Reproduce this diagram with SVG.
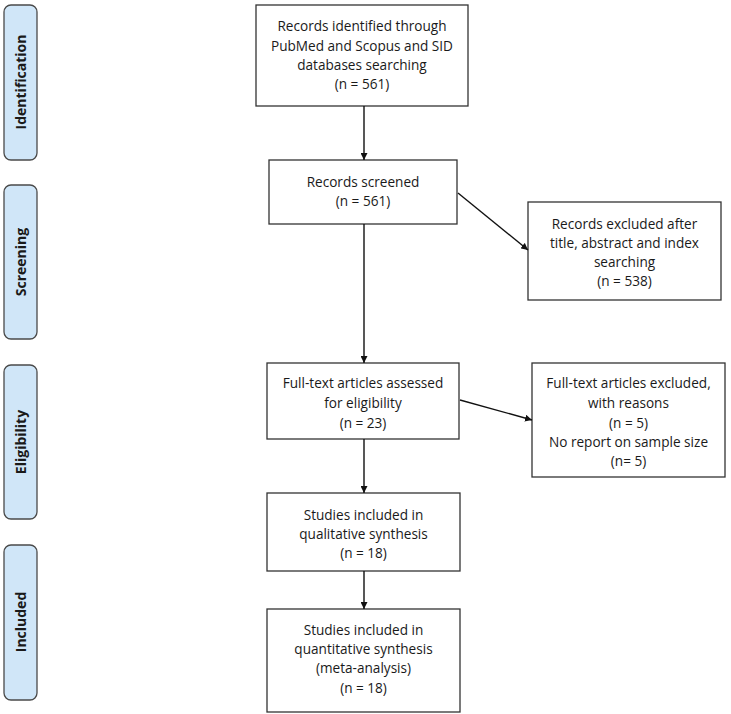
<svg xmlns="http://www.w3.org/2000/svg" width="731" height="714" viewBox="0 0 731 714">
<style>
.pill{fill:#d0e6f8;stroke:#4a4a4a;stroke-width:1.3}
.box{fill:#fff;stroke:#333;stroke-width:1.3}
.lbl{font-family:"Open Sans","Liberation Sans",sans-serif;font-size:14px;font-weight:bold;fill:#1a1a1a;text-anchor:middle}
.t{font-family:"Open Sans","Liberation Sans",sans-serif;font-size:13.6px;fill:#1a1a1a;text-anchor:middle}
.c{stroke:#111;stroke-width:1.4;fill:none;marker-end:url(#ah)}
</style>
<defs>
<marker id="ah" viewBox="0 0 10 10" refX="10" refY="5" markerWidth="7" markerHeight="7" markerUnits="userSpaceOnUse" orient="auto">
<path d="M0,0 L10,5 L0,10 z" fill="#111"/>
</marker>
</defs>
<g id="stage-identification"><rect class="pill" x="4" y="5" width="33" height="155" rx="7"/><text class="lbl" transform="translate(25.5,82) rotate(-90)">Identification</text></g>
<g id="stage-screening"><rect class="pill" x="4" y="185" width="33" height="154" rx="7"/><text class="lbl" transform="translate(25.5,262) rotate(-90)">Screening</text></g>
<g id="stage-eligibility"><rect class="pill" x="4" y="365" width="33" height="154" rx="7"/><text class="lbl" transform="translate(25.5,442) rotate(-90)">Eligibility</text></g>
<g id="stage-included"><rect class="pill" x="4" y="545" width="33" height="155" rx="7"/><text class="lbl" transform="translate(25.5,622) rotate(-90)">Included</text></g>
<g id="n1"><rect class="box" x="256" y="5" width="212" height="101"/>
<text class="t" x="362" y="31">Records identified through</text>
<text class="t" x="362" y="50.5">PubMed and Scopus and SID</text>
<text class="t" x="362" y="69.5">databases searching</text>
<text class="t" x="362" y="89">(n = 561)</text></g>
<g id="n2"><rect class="box" x="269" y="160" width="188" height="64"/>
<text class="t" x="363" y="186.5">Records screened</text>
<text class="t" x="363" y="205.5">(n = 561)</text></g>
<g id="n3"><rect class="box" x="528" y="202" width="193" height="98"/>
<text class="t" x="624.5" y="228.5">Records excluded after</text>
<text class="t" x="624.5" y="247.5">title, abstract and index</text>
<text class="t" x="624.5" y="266.5">searching</text>
<text class="t" x="624.5" y="285.5">(n = 538)</text></g>
<g id="n4"><rect class="box" x="267" y="363" width="192" height="76"/>
<text class="t" x="363" y="387.5">Full-text articles assessed</text>
<text class="t" x="363" y="407.5">for eligibility</text>
<text class="t" x="363" y="427.5">(n = 23)</text></g>
<g id="n5"><rect class="box" x="532" y="363" width="193" height="114"/>
<text class="t" x="628.5" y="387.5">Full-text articles excluded,</text>
<text class="t" x="628.5" y="407.5">with reasons</text>
<text class="t" x="628.5" y="427.5">(n = 5)</text>
<text class="t" x="628.5" y="446.5">No report on sample size</text>
<text class="t" x="628.5" y="465.5">(n= 5)</text></g>
<g id="n6"><rect class="box" x="267" y="493" width="193" height="78"/>
<text class="t" x="363.5" y="519.5">Studies included in</text>
<text class="t" x="363.5" y="538.5">qualitative synthesis</text>
<text class="t" x="363.5" y="557.5">(n = 18)</text></g>
<g id="n7"><rect class="box" x="267" y="609" width="193" height="103"/>
<text class="t" x="363.5" y="634.5">Studies included in</text>
<text class="t" x="363.5" y="653.5">quantitative synthesis</text>
<text class="t" x="363.5" y="672.5">(meta-analysis)</text>
<text class="t" x="363.5" y="692.5">(n = 18)</text></g>
<g id="connectors">
<path class="c" d="M364,106 L364,160"/>
<path class="c" d="M458,193 L528,250"/>
<path class="c" d="M364,224 L364,363"/>
<path class="c" d="M460,400 L532,420"/>
<path class="c" d="M364,439 L364,493"/>
<path class="c" d="M364,571 L364,609"/>
</g>
</svg>
